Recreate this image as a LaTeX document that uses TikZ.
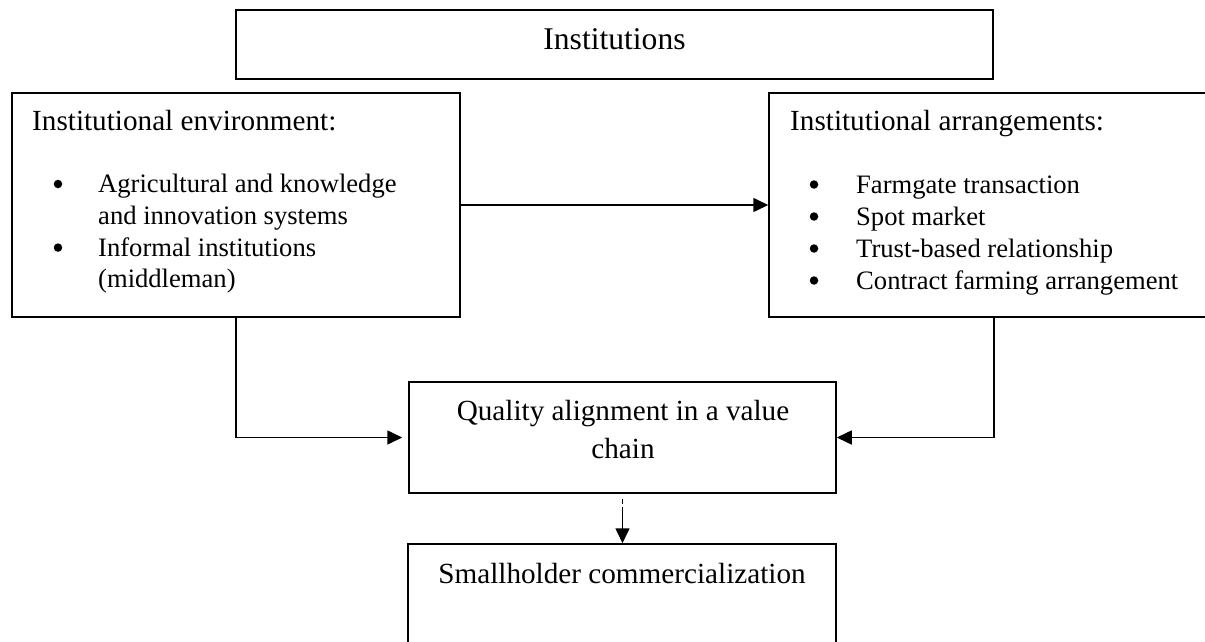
\documentclass[tikz,border=0pt]{standalone}
\usepackage{fontspec}
\setmainfont{Liberation Serif}
\usetikzlibrary{arrows.meta}
\begin{document}
\begin{tikzpicture}[x=1pt, y=-1pt,
  box/.style={draw, rectangle, line width=1.5pt, inner sep=0pt},
  conn/.style={line width=1.6pt, -{Triangle[length=15pt,width=14pt]}},
  txt/.style={inner sep=0pt, anchor=base west},
  ctxt/.style={inner sep=0pt, anchor=base},
  bul/.style={circle, fill, inner sep=0pt, minimum size=8.5pt},
  title/.style={font=\fontsize{31.6}{38}\selectfont},
  head/.style={font=\fontsize{29.2}{35}\selectfont},
  item/.style={font=\fontsize{26.6}{32}\selectfont}
]
\useasboundingbox (0,0) rectangle (1205,642);
\clip (0,0) rectangle (1205,642);
\fill[white] (0,0) rectangle (1205,642);

% boxes
\node[box, minimum width=757pt, minimum height=69pt] (inst) at (614.5,44.5) {};
\node[box, minimum width=448pt, minimum height=224pt] (env) at (236,205) {};
\node[box, minimum width=450pt, minimum height=224pt] (arr) at (994,205) {};
\node[box, minimum width=427pt, minimum height=111pt] (qual) at (622.5,437.5) {};
\node[box, minimum width=428pt, minimum height=120pt] (small) at (622,604) {};

% texts
\node[ctxt, title] (tinst) at (614.5,50) {Institutions};

\node[txt, head] (tenv) at (32,130) {Institutional environment:};
\node[bul] (be1) at (58,184) {};
\node[txt, item] (te1) at (98,192.5) {Agricultural and knowledge};
\node[txt, item] (te2) at (98,224.3) {and innovation systems};
\node[bul] (be2) at (58,247.6) {};
\node[txt, item] (te3) at (98,256.1) {Informal institutions};
\node[txt, item] (te4) at (98,287.9) {(middleman)};

\node[txt, head] (tarr) at (790,130) {Institutional arrangements:};
\node[bul] (ba1) at (814,184.5) {};
\node[txt, item] (ta1) at (856,193) {Farmgate transaction};
\node[bul] (ba2) at (814,216.5) {};
\node[txt, item] (ta2) at (856,225) {Spot market};
\node[bul] (ba3) at (814,248.5) {};
\node[txt, item] (ta3) at (856,257) {Trust-based relationship};
\node[bul] (ba4) at (814,280.5) {};
\node[txt, item] (ta4) at (856,289) {Contract farming arrangement};

\node[ctxt, head] (tq1) at (623,420) {Quality alignment in a value};
\node[ctxt, head] (tq2) at (623,458) {chain};

\node[ctxt, head] (ts) at (622,583) {Smallholder commercialization};

% connectors
\draw[conn] (env.east) -- (arr.west);
\draw[conn, shorten >=6pt] (env.south) |- (qual.west);
\draw[conn] (arr.south) |- (qual.east);
\draw[conn, shorten <=5pt, dash pattern=on 5pt off 3pt on 100pt off 0pt]
  (qual.south) -- (qual.south |- small.north);
\end{tikzpicture}
\end{document}
